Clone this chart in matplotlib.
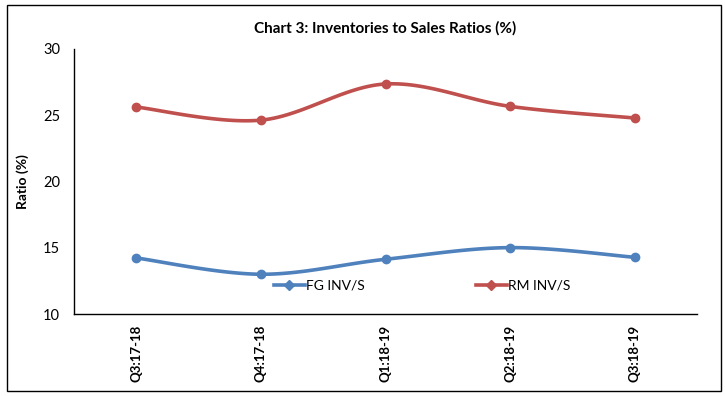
import numpy as np
import matplotlib
matplotlib.use("Agg")
import matplotlib.pyplot as plt
import matplotlib.patches as pltp

quarters = ["Q3:17-18", "Q4:17-18", "Q1:18-19", "Q2:18-19", "Q3:18-19"]
fg_inv_s = [14.23, 13.0, 14.13, 15.01, 14.28]
rm_inv_s = [25.62, 24.63, 27.36, 25.67, 24.79]

BLUE = "#4F81BD"
RED = "#C0504D"

plt.rcParams['font.family'] = ['Lato', 'DejaVu Sans']


def smooth(xs, ys, n=30):
    # catmull-rom style bezier, like excel's smoothed line
    pts = np.column_stack([xs, ys]).astype(float)
    ext = np.vstack([pts[0], pts, pts[-1]])
    out = []
    t = np.linspace(0, 1, n)
    for i in range(1, len(ext) - 2):
        p0, p1, p2, p3 = ext[i - 1], ext[i], ext[i + 1], ext[i + 2]
        c1 = p1 + (p2 - p0) / 6.0
        c2 = p2 - (p3 - p1) / 6.0
        seg = ((1 - t) ** 3)[:, None] * p1 + (3 * (1 - t) ** 2 * t)[:, None] * c1 \
            + (3 * (1 - t) * t ** 2)[:, None] * c2 + (t ** 3)[:, None] * p2
        out.append(seg)
    out = np.vstack(out)
    return out[:, 0], out[:, 1]


fig = plt.figure(figsize=(7.25, 3.96), dpi=100)
ax = fig.add_axes([74 / 725, 1 - 314 / 396, 623 / 725, 265 / 396])

x = np.arange(len(quarters))
for vals, col, lab in [(fg_inv_s, BLUE, "FG INV/S"), (rm_inv_s, RED, "RM INV/S")]:
    sx, sy = smooth(x, vals)
    ax.plot(sx, sy, color=col, lw=2.6, solid_capstyle="round")
    ax.plot(x, vals, "o", color=col, ms=6)
    ax.plot([], [], color=col, lw=2.6, marker="D", ms=5, label=lab)

ax.set_xlim(-0.5, len(quarters) - 0.5)
ax.set_ylim(10, 30)
ax.set_yticks([10, 15, 20, 25, 30])
ax.set_xticks(x)
ax.set_xticklabels(quarters, rotation=90, fontsize=9.5, fontweight="bold")
ax.tick_params(axis="y", labelsize=10.5, length=0, pad=10)
ax.tick_params(axis="x", length=0, pad=8)
for s in ["top", "right"]:
    ax.spines[s].set_visible(False)
ax.spines["left"].set_linewidth(1)
ax.spines["bottom"].set_linewidth(1)

ax.set_ylabel("Ratio (%)", fontsize=10, fontweight="bold", labelpad=10)
fig.text(0.5 * (74 + 697) / 725, 1 - 28 / 396, "Chart 3: Inventories to Sales Ratios (%)",
         ha="center", va="center", fontsize=11, fontweight="bold")

ax.legend(loc="center", bbox_to_anchor=(0.559, 0.108), ncol=2, frameon=False,
          fontsize=10, handlelength=2.2, columnspacing=8, handletextpad=0.1)

fig.patches.append(pltp.Rectangle((7 / 725, 5 / 396), 714 / 725, 386 / 396,
                                  transform=fig.transFigure, fill=False,
                                  edgecolor="black", lw=1))

fig.savefig("out.png", dpi=100)
